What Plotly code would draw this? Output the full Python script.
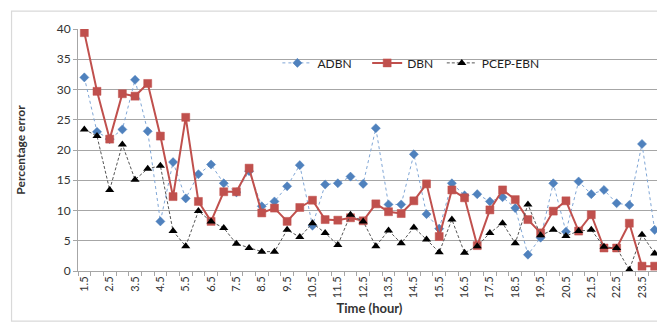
import plotly.graph_objects as go

hours = [1.5 + 0.5 * i for i in range(46)]
adbn = [32.0, 23.0, 21.8, 23.4, 31.6, 23.1, 8.2, 18.0, 12.0, 16.0,
        17.6, 14.5, 13.0, 16.5, 10.7, 11.5, 14.0, 17.5, 7.5, 14.3,
        14.5, 15.6, 14.4, 23.6, 11.0, 11.0, 19.3, 9.4, 7.0, 14.5,
        12.5, 12.7, 11.5, 12.2, 10.4, 2.7, 5.5, 14.5, 6.5, 14.8,
        12.7, 13.4, 11.2, 10.9, 21.0, 6.8]
dbn = [39.4, 29.7, 21.8, 29.3, 28.9, 31.0, 22.3, 12.3, 25.4, 11.5,
       8.2, 13.1, 13.1, 17.0, 9.6, 10.4, 8.2, 10.5, 11.7, 8.5,
       8.4, 8.8, 8.3, 11.1, 9.8, 9.5, 11.6, 14.4, 5.7, 13.4,
       12.1, 4.2, 10.1, 13.4, 11.8, 8.5, 6.3, 9.9, 11.6, 6.6,
       9.3, 3.8, 3.8, 7.9, 0.8, 0.8]
pcep = [23.4, 22.3, 13.4, 20.9, 15.1, 16.9, 17.4, 6.6, 4.1, 9.9,
        8.2, 7.1, 4.5, 3.8, 3.2, 3.2, 6.8, 5.6, 7.9, 6.3,
        4.3, 9.3, 8.2, 4.1, 6.7, 4.6, 7.2, 5.2, 3.1, 8.5,
        3.0, 4.1, 6.3, 7.9, 4.6, 11.0, 5.9, 6.8, 5.8, 6.6,
        6.8, 4.0, 3.8, 0.2, 6.0, 2.9]
tick_vals = [1.5 + i for i in range(23)]
tick_text = [str(v) for v in tick_vals]
boundaries = [1.25 + 0.5 * i for i in range(47)]

FONT = "Lato, Open Sans, sans-serif"

fig = go.Figure()
fig.add_trace(go.Scatter(
    x=hours, y=adbn, name="ADBN", mode="lines+markers", legend="legend",
    line=dict(color="#7FA6D6", width=1, dash="dot"),
    marker=dict(symbol="diamond", size=7, color="#4F81BD",
                line=dict(color="#4F81BD", width=0.5))))
fig.add_trace(go.Scatter(
    x=hours, y=dbn, name="DBN", mode="lines+markers", legend="legend2",
    line=dict(color="#C0504D", width=2),
    marker=dict(symbol="square", size=8, color="#C0504D",
                line=dict(color="#C0504D", width=0.5))))
fig.add_trace(go.Scatter(
    x=hours, y=pcep, name="PCEP-EBN", mode="lines+markers", legend="legend3",
    line=dict(color="#555555", width=1, dash="3px,2px"),
    marker=dict(symbol="triangle-up", size=8, color="#000000")))

leg = dict(orientation="h", y=0.86, xanchor="left", yanchor="middle",
           bgcolor="rgba(0,0,0,0)", font=dict(size=12, color="#222222"),
           itemwidth=30)

fig.update_layout(
    width=665, height=325,
    margin=dict(l=70, r=12, t=21, b=62),
    paper_bgcolor="white", plot_bgcolor="white",
    font=dict(family=FONT, size=12, color="#333333"),
    showlegend=True,
    legend=dict(x=0.342, **leg),
    legend2=dict(x=0.496, **leg),
    legend3=dict(x=0.624, **leg),
    shapes=[dict(type="rect", xref="paper", yref="paper",
                 x0=-0.114, x1=1.007, y0=-0.207, y1=1.074,
                 line=dict(color="#D9D9D9", width=1.2), fillcolor="rgba(0,0,0,0)",
                 layer="below")],
)
fig.update_xaxes(
    range=[1.25, 24.25], tickmode="array", tickvals=tick_vals, ticktext=tick_text,
    tickangle=-90, tickfont=dict(size=11, color="#333333"),
    showgrid=False, zeroline=False, showline=True, linecolor="#A6A6A6", linewidth=1,
    ticks="", minor=dict(tickvals=boundaries, ticks="outside", ticklen=4,
                         tickcolor="#A6A6A6", showgrid=False),
    title=dict(text="<b>Time (hour)</b>", font=dict(size=13, color="#333333"), standoff=6),
)
fig.update_yaxes(
    range=[0, 40], dtick=5, tick0=0, showgrid=True, gridcolor="#A6A6A6", gridwidth=1,
    zeroline=False, showline=True, linecolor="#A6A6A6", linewidth=1,
    ticks="outside", ticklen=4, tickcolor="#A6A6A6",
    tickfont=dict(size=12, color="#333333"),
    title=dict(text="<b>Percentage error</b>", font=dict(size=12, color="#333333"), standoff=28),
)

fig.write_html("out.html")
